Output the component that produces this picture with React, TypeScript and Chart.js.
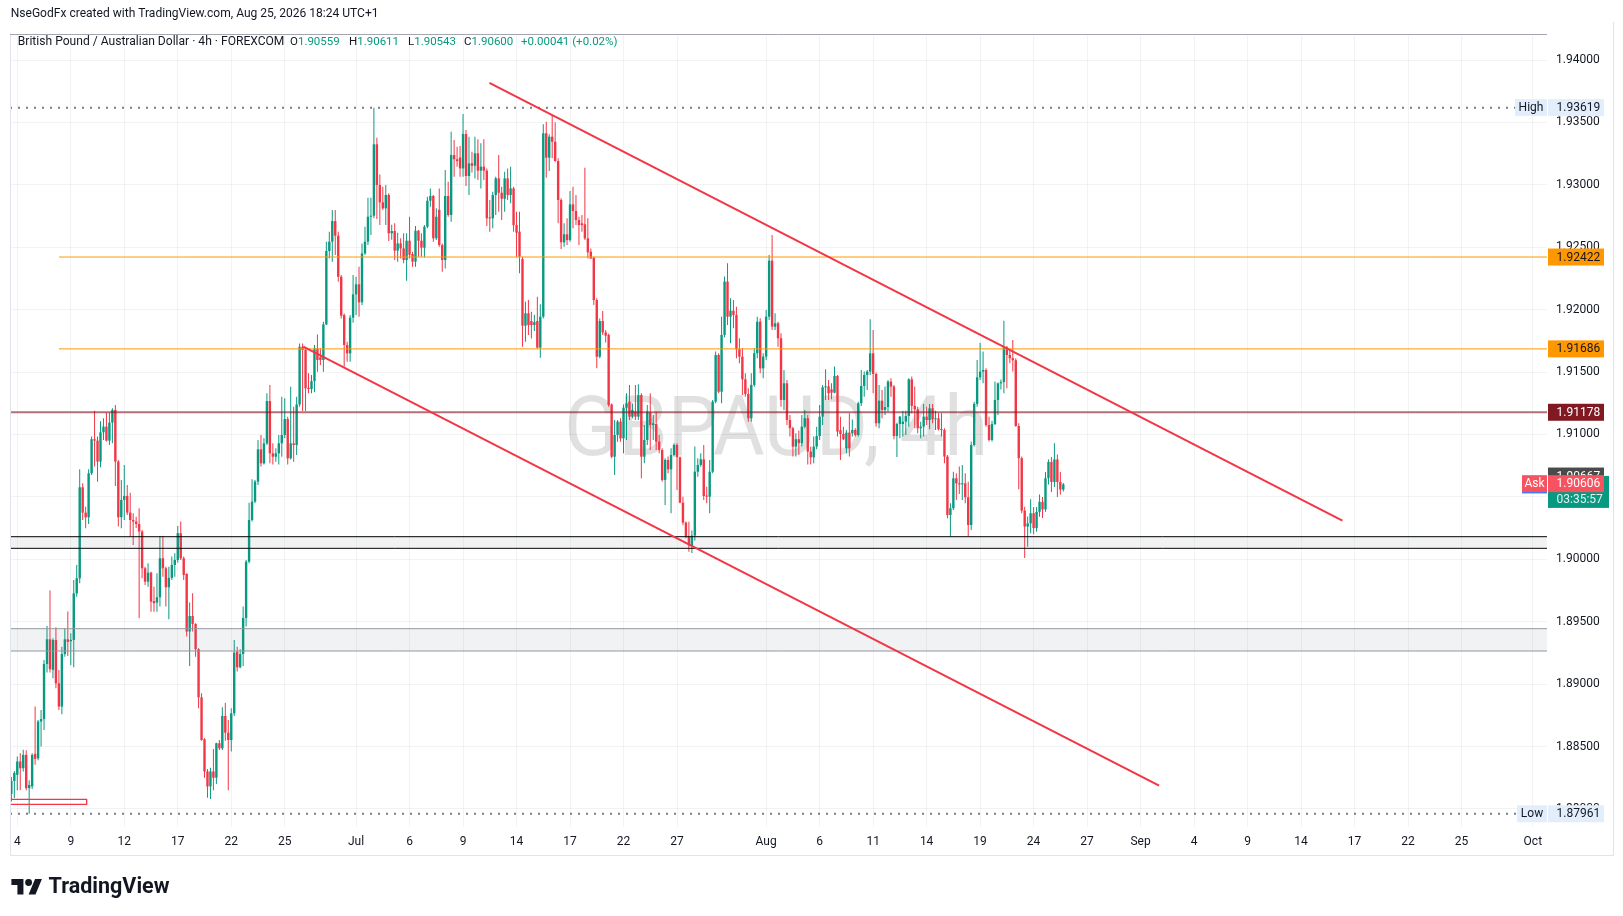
import React, { useEffect, useRef } from "react";
import { Chart, registerables } from "chart.js";

Chart.register(...registerables);

// ---------------- DATA ----------------
const HEADER_TEXT = "NseGodFx created with TradingView.com, Aug 25, 2026 18:24 UTC+1";
const SYMBOL_TEXT = "British Pound / Australian Dollar · 4h · FOREXCOM";
const OHLC_KEYS = ["O", "H", "L", "C"];
const OHLC_VALUES = ["1.90559", "1.90611", "1.90543", "1.90600"];
const CHANGE_TEXT = "+0.00041 (+0.02%)";
const WATERMARK = "GBPAUD, 4h";
const BRAND = "TradingView";

const BARS_PER_DAY = 6; // 4h candles per trading day
const FIRST_BAR = -2; // index of first candle relative to Jun 4 open

// [open, high, low, close]
const CANDLES: number[][] = [
  [1.88120, 1.88256, 1.88060, 1.88224], [1.88224, 1.88304, 1.88088, 1.88288],
  [1.88273, 1.88420, 1.88150, 1.88380], [1.88380, 1.88446, 1.88152, 1.88326], [1.88326, 1.88473, 1.88300, 1.88433],
  [1.88433, 1.88470, 1.88150, 1.88166], [1.88166, 1.88230, 1.87961, 1.88192], [1.88180, 1.88446, 1.88160, 1.88433],
  [1.88441, 1.88820, 1.88353, 1.88401], [1.88405, 1.88713, 1.88390, 1.88700], [1.88700, 1.88793, 1.88500, 1.88720],
  [1.88720, 1.89193, 1.88632, 1.89161], [1.89161, 1.89466, 1.89092, 1.89359], [1.89359, 1.89749, 1.89092, 1.89119],
  [1.89114, 1.89367, 1.89047, 1.89354], [1.89354, 1.89455, 1.88966, 1.89006], [1.89006, 1.89113, 1.88793, 1.88820],
  [1.88820, 1.89300, 1.88758, 1.89241], [1.89241, 1.89447, 1.89220, 1.89359], [1.89359, 1.89581, 1.89226, 1.89338],
  [1.89343, 1.89407, 1.89153, 1.89354], [1.89354, 1.89834, 1.89135, 1.89727], [1.89727, 1.89955, 1.89700, 1.89848],
  [1.89848, 1.90721, 1.89808, 1.90577], [1.90577, 1.90609, 1.90315, 1.90374], [1.90374, 1.90422, 1.90248, 1.90337],
  [1.90337, 1.90721, 1.90283, 1.90689], [1.90689, 1.90983, 1.90676, 1.90962], [1.90962, 1.91191, 1.90743, 1.90951],
  [1.90951, 1.90983, 1.90622, 1.90783], [1.90783, 1.91106, 1.90737, 1.91018], [1.91018, 1.91130, 1.90956, 1.91063],
  [1.91063, 1.91175, 1.90943, 1.90951], [1.90951, 1.91175, 1.90916, 1.91095], [1.91095, 1.91210, 1.90930, 1.91197],
  [1.91197, 1.91237, 1.90588, 1.90783], [1.90783, 1.90796, 1.90262, 1.90337], [1.90337, 1.90636, 1.90248, 1.90476],
  [1.90476, 1.90756, 1.90315, 1.90508], [1.90508, 1.90596, 1.90355, 1.90374], [1.90374, 1.90534, 1.90182, 1.90315],
  [1.90315, 1.90369, 1.90115, 1.90302], [1.90302, 1.90340, 1.90250, 1.90283], [1.90283, 1.90409, 1.89527, 1.90222],
  [1.90222, 1.90235, 1.89848, 1.89928], [1.89928, 1.89941, 1.89794, 1.89821], [1.89821, 1.89968, 1.89781, 1.89893],
  [1.89893, 1.89901, 1.89580, 1.89660], [1.89666, 1.89781, 1.89580, 1.89648], [1.89653, 1.89888, 1.89580, 1.89696],
  [1.89696, 1.90187, 1.89621, 1.90008], [1.90008, 1.90187, 1.89861, 1.89928], [1.89928, 1.89941, 1.89621, 1.89776],
  [1.89776, 1.89941, 1.89519, 1.89851], [1.89851, 1.90022, 1.89834, 1.89955], [1.89955, 1.90048, 1.89861, 1.89995],
  [1.89995, 1.90267, 1.89973, 1.90209], [1.90209, 1.90302, 1.89995, 1.90008], [1.90008, 1.90022, 1.89834, 1.89875],
  [1.89883, 1.89888, 1.89381, 1.89421], [1.89421, 1.89653, 1.89145, 1.89546], [1.89546, 1.89727, 1.89421, 1.89482],
  [1.89482, 1.89487, 1.89220, 1.89280], [1.89280, 1.89287, 1.88806, 1.88894], [1.88894, 1.88926, 1.88547, 1.88552],
  [1.88558, 1.88566, 1.88250, 1.88300], [1.88300, 1.88320, 1.88090, 1.88180], [1.88180, 1.88330, 1.88080, 1.88300],
  [1.88300, 1.88480, 1.88150, 1.88250], [1.88250, 1.88531, 1.88200, 1.88526], [1.88526, 1.88552, 1.88472, 1.88486],
  [1.88486, 1.88814, 1.88472, 1.88745], [1.88745, 1.88851, 1.88547, 1.88611], [1.88611, 1.88713, 1.88150, 1.88552],
  [1.88552, 1.88806, 1.88459, 1.88766], [1.88766, 1.89354, 1.88745, 1.89252], [1.89260, 1.89300, 1.89100, 1.89135],
  [1.89135, 1.89279, 1.89127, 1.89241], [1.89241, 1.89621, 1.89145, 1.89530], [1.89530, 1.89995, 1.89461, 1.89981],
  [1.89981, 1.90454, 1.89968, 1.90315], [1.90315, 1.90641, 1.90302, 1.90462], [1.90462, 1.90636, 1.90449, 1.90622],
  [1.90622, 1.90956, 1.90596, 1.90881], [1.90881, 1.90996, 1.90743, 1.90769], [1.90769, 1.90969, 1.90760, 1.90929],
  [1.90929, 1.91330, 1.90916, 1.91268], [1.91268, 1.91396, 1.90769, 1.90849], [1.90849, 1.90929, 1.90760, 1.90822],
  [1.90822, 1.90889, 1.90782, 1.90849], [1.90849, 1.90996, 1.90760, 1.90929], [1.90929, 1.91303, 1.90822, 1.90996],
  [1.90996, 1.91290, 1.90969, 1.91124], [1.91124, 1.91142, 1.90760, 1.90809], [1.90809, 1.91383, 1.90800, 1.90929],
  [1.90929, 1.91223, 1.90782, 1.90916], [1.90916, 1.91303, 1.90836, 1.91241], [1.91241, 1.91730, 1.91223, 1.91703],
  [1.91703, 1.91730, 1.91188, 1.91677], [1.91677, 1.91690, 1.91188, 1.91370], [1.91375, 1.91490, 1.91330, 1.91364],
  [1.91364, 1.91476, 1.91330, 1.91428], [1.91428, 1.91717, 1.91338, 1.91690], [1.91690, 1.91802, 1.91503, 1.91597],
  [1.91620, 1.91690, 1.91556, 1.91597], [1.91597, 1.91904, 1.91503, 1.91882], [1.91882, 1.92545, 1.91877, 1.92470],
  [1.92470, 1.92625, 1.92411, 1.92545], [1.92545, 1.92798, 1.92385, 1.92710], [1.92710, 1.92798, 1.92438, 1.92593],
  [1.92593, 1.92625, 1.92224, 1.92264], [1.92264, 1.92278, 1.91930, 1.91952], [1.91957, 1.91970, 1.91543, 1.91717],
  [1.91717, 1.91743, 1.91583, 1.91650], [1.91650, 1.91957, 1.91583, 1.91936], [1.91936, 1.92278, 1.91896, 1.92123],
  [1.92123, 1.92264, 1.91957, 1.92203], [1.92203, 1.92344, 1.91944, 1.92059], [1.92059, 1.92531, 1.92037, 1.92451],
  [1.92451, 1.92665, 1.92438, 1.92545], [1.92545, 1.92897, 1.92518, 1.92745], [1.92745, 1.92897, 1.92598, 1.92753],
  [1.92753, 1.93619, 1.92732, 1.93325], [1.93325, 1.93378, 1.92726, 1.92999], [1.92999, 1.93084, 1.92678, 1.92860],
  [1.92860, 1.92985, 1.92799, 1.92812], [1.92812, 1.92999, 1.92678, 1.92919], [1.92919, 1.92932, 1.92550, 1.92612],
  [1.92612, 1.92680, 1.92560, 1.92630], [1.92630, 1.92692, 1.92398, 1.92473], [1.92473, 1.92617, 1.92385, 1.92531],
  [1.92531, 1.92572, 1.92411, 1.92491], [1.92491, 1.92612, 1.92372, 1.92398], [1.92398, 1.92612, 1.92232, 1.92553],
  [1.92553, 1.92745, 1.92411, 1.92440], [1.92446, 1.92465, 1.92345, 1.92385], [1.92385, 1.92670, 1.92345, 1.92633],
  [1.92633, 1.92638, 1.92425, 1.92553], [1.92553, 1.92612, 1.92425, 1.92497], [1.92497, 1.92678, 1.92419, 1.92665],
  [1.92665, 1.92905, 1.92652, 1.92873], [1.92873, 1.92972, 1.92825, 1.92911], [1.92911, 1.92919, 1.92545, 1.92572],
  [1.92572, 1.92812, 1.92558, 1.92745], [1.92800, 1.92972, 1.92505, 1.92518], [1.92518, 1.92531, 1.92304, 1.92398],
  [1.92398, 1.93119, 1.92331, 1.92911], [1.92911, 1.93026, 1.92745, 1.92759], [1.92759, 1.93426, 1.92705, 1.93239],
  [1.93239, 1.93360, 1.93066, 1.93205], [1.93205, 1.93306, 1.93146, 1.93190], [1.93219, 1.93311, 1.93066, 1.93132],
  [1.93132, 1.93568, 1.93066, 1.93408], [1.93408, 1.93440, 1.92991, 1.93071], [1.93071, 1.93386, 1.92919, 1.93173],
  [1.93173, 1.93266, 1.93100, 1.93153], [1.93153, 1.93386, 1.93052, 1.93253], [1.93253, 1.93365, 1.93039, 1.93114],
  [1.93114, 1.93333, 1.92972, 1.93146], [1.93146, 1.93365, 1.93039, 1.93114], [1.93114, 1.93132, 1.92670, 1.92732],
  [1.92740, 1.92879, 1.92625, 1.92732], [1.92732, 1.92945, 1.92652, 1.92919], [1.92919, 1.93066, 1.92759, 1.93052],
  [1.93052, 1.93239, 1.92785, 1.92937], [1.92937, 1.92986, 1.92718, 1.92889], [1.92889, 1.93106, 1.92785, 1.93052],
  [1.93052, 1.93132, 1.92879, 1.92919], [1.92919, 1.93146, 1.92852, 1.92972], [1.92972, 1.92986, 1.92625, 1.92678],
  [1.92678, 1.92785, 1.92425, 1.92617], [1.92625, 1.92785, 1.92291, 1.92425], [1.92406, 1.92425, 1.91704, 1.91872],
  [1.91872, 1.92064, 1.91744, 1.91971], [1.91971, 1.92077, 1.91797, 1.91877], [1.91909, 1.91984, 1.91770, 1.91877],
  [1.91877, 1.91960, 1.91830, 1.91900], [1.91909, 1.92104, 1.91690, 1.91696], [1.91696, 1.92043, 1.91615, 1.91944],
  [1.91944, 1.93485, 1.91930, 1.93413], [1.93413, 1.93506, 1.93058, 1.93218], [1.93218, 1.93405, 1.93111, 1.93386],
  [1.93386, 1.93560, 1.93213, 1.93346], [1.93346, 1.93501, 1.93186, 1.93191], [1.93191, 1.93213, 1.92692, 1.92879],
  [1.92879, 1.92892, 1.92486, 1.92540], [1.92540, 1.92692, 1.92505, 1.92604], [1.92604, 1.92732, 1.92518, 1.92558],
  [1.92558, 1.92951, 1.92545, 1.92844], [1.92844, 1.92986, 1.92652, 1.92791], [1.92791, 1.92919, 1.92678, 1.92719],
  [1.92719, 1.92745, 1.92518, 1.92678], [1.92692, 1.92759, 1.92625, 1.92678], [1.92684, 1.93138, 1.92559, 1.92572],
  [1.92572, 1.92732, 1.92411, 1.92460], [1.92465, 1.92491, 1.92406, 1.92411], [1.92417, 1.92425, 1.92037, 1.92077],
  [1.92077, 1.92091, 1.91530, 1.91623], [1.91623, 1.91930, 1.91610, 1.91909], [1.91909, 1.91989, 1.91797, 1.91818],
  [1.91818, 1.91837, 1.91738, 1.91792], [1.91797, 1.91810, 1.91223, 1.91236], [1.91241, 1.91249, 1.90809, 1.90822],
  [1.90822, 1.91116, 1.90675, 1.90996], [1.90996, 1.91116, 1.90942, 1.91103], [1.91103, 1.91130, 1.90942, 1.90969],
  [1.90969, 1.91241, 1.90849, 1.91215], [1.91215, 1.91330, 1.90956, 1.91250], [1.91263, 1.91396, 1.91116, 1.91143],
  [1.91143, 1.91249, 1.91130, 1.91196], [1.91183, 1.91396, 1.91116, 1.91143], [1.91143, 1.91402, 1.91116, 1.91316],
  [1.91316, 1.91330, 1.90649, 1.90822], [1.90822, 1.91076, 1.90769, 1.90956], [1.90956, 1.91236, 1.90916, 1.91183],
  [1.91175, 1.91330, 1.90876, 1.91076], [1.91076, 1.91156, 1.90956, 1.91090], [1.91084, 1.91183, 1.90876, 1.90943],
  [1.90943, 1.90996, 1.90849, 1.90876], [1.90876, 1.90889, 1.90622, 1.90636], [1.90636, 1.90810, 1.90435, 1.90796],
  [1.90796, 1.90823, 1.90689, 1.90721], [1.90721, 1.90889, 1.90369, 1.90836], [1.90836, 1.90930, 1.90823, 1.90916],
  [1.90916, 1.90930, 1.90556, 1.90817], [1.90817, 1.90823, 1.90449, 1.90454], [1.90454, 1.90502, 1.90275, 1.90294],
  [1.90294, 1.90302, 1.90168, 1.90182], [1.90182, 1.90300, 1.90060, 1.90110], [1.90110, 1.90230, 1.90050, 1.90190],
  [1.90190, 1.90903, 1.90150, 1.90702], [1.90702, 1.90810, 1.90662, 1.90756], [1.90756, 1.90849, 1.90742, 1.90801],
  [1.90801, 1.90916, 1.90475, 1.90507], [1.90507, 1.90582, 1.90449, 1.90502], [1.90502, 1.90796, 1.90369, 1.90702],
  [1.90702, 1.91277, 1.90689, 1.91263], [1.91263, 1.91664, 1.91250, 1.91637], [1.91637, 1.91651, 1.91330, 1.91343],
  [1.91343, 1.91944, 1.91250, 1.91798], [1.91798, 1.92265, 1.91780, 1.92225], [1.92225, 1.92372, 1.91878, 1.91944],
  [1.91944, 1.92091, 1.91731, 1.91992], [1.91992, 1.92078, 1.91851, 1.91958], [1.91958, 1.92024, 1.91611, 1.91683],
  [1.91683, 1.91771, 1.91571, 1.91624], [1.91624, 1.91691, 1.91317, 1.91442], [1.91442, 1.91490, 1.91303, 1.91325],
  [1.91325, 1.91370, 1.91103, 1.91130], [1.91130, 1.91490, 1.91103, 1.91397], [1.91397, 1.91691, 1.91383, 1.91651],
  [1.91651, 1.91944, 1.91611, 1.91904], [1.91904, 1.91931, 1.91490, 1.91530], [1.91530, 1.91651, 1.91450, 1.91624],
  [1.91624, 1.91998, 1.91597, 1.91944], [1.91944, 1.92439, 1.91918, 1.92393], [1.92393, 1.92599, 1.91838, 1.91864],
  [1.91864, 1.91971, 1.91838, 1.91891], [1.91891, 1.91904, 1.91704, 1.91771], [1.91771, 1.91811, 1.91223, 1.91277],
  [1.91277, 1.91517, 1.91197, 1.91410], [1.91410, 1.91437, 1.91076, 1.91116], [1.91116, 1.91156, 1.90983, 1.91050],
  [1.91050, 1.91063, 1.90823, 1.90903], [1.90903, 1.91010, 1.90823, 1.90962], [1.90962, 1.91031, 1.90836, 1.90930],
  [1.90930, 1.91156, 1.90903, 1.91063], [1.91063, 1.91197, 1.91050, 1.91130], [1.91130, 1.91156, 1.90760, 1.90863],
  [1.90863, 1.90903, 1.90760, 1.90817], [1.90817, 1.90983, 1.90770, 1.90903], [1.90903, 1.91063, 1.90881, 1.90988],
  [1.90988, 1.91237, 1.90956, 1.91143], [1.91143, 1.91397, 1.91076, 1.91378], [1.91378, 1.91522, 1.91277, 1.91386],
  [1.91386, 1.91437, 1.91277, 1.91330], [1.91362, 1.91410, 1.91282, 1.91335], [1.91335, 1.91544, 1.91330, 1.91469],
  [1.91469, 1.91477, 1.90983, 1.91023], [1.91034, 1.91143, 1.90796, 1.91004], [1.91004, 1.91063, 1.90956, 1.90962],
  [1.90889, 1.91036, 1.90849, 1.91015], [1.91015, 1.91170, 1.90823, 1.90889], [1.91010, 1.91120, 1.90983, 1.91036],
  [1.91036, 1.91050, 1.90983, 1.90996], [1.90996, 1.91263, 1.90983, 1.91250], [1.91250, 1.91517, 1.91229, 1.91389],
  [1.91389, 1.91504, 1.91303, 1.91477], [1.91477, 1.91517, 1.91357, 1.91504], [1.91504, 1.91923, 1.91477, 1.91650],
  [1.91650, 1.91838, 1.91330, 1.91485], [1.91485, 1.91496, 1.91063, 1.91090], [1.91090, 1.91397, 1.91050, 1.91271],
  [1.91271, 1.91357, 1.91130, 1.91197], [1.91197, 1.91384, 1.91156, 1.91220], [1.91220, 1.91437, 1.91183, 1.91424],
  [1.91424, 1.91450, 1.91303, 1.91384], [1.91384, 1.91397, 1.90962, 1.90988], [1.90988, 1.91095, 1.90820, 1.91084],
  [1.91084, 1.91148, 1.90969, 1.91143], [1.91084, 1.91190, 1.90983, 1.91103], [1.91103, 1.91190, 1.90996, 1.91148],
  [1.91148, 1.91450, 1.91063, 1.91442], [1.91442, 1.91464, 1.91170, 1.91229], [1.91229, 1.91384, 1.91050, 1.91202],
  [1.91202, 1.91223, 1.91010, 1.91050], [1.91050, 1.91103, 1.90969, 1.91063], [1.91063, 1.91245, 1.90983, 1.91143],
  [1.91143, 1.91223, 1.91076, 1.91116], [1.91116, 1.91245, 1.91042, 1.91210], [1.91210, 1.91245, 1.91090, 1.91122],
  [1.91122, 1.91190, 1.91036, 1.91130], [1.91130, 1.91170, 1.91031, 1.91042], [1.91042, 1.91170, 1.90983, 1.91036],
  [1.91036, 1.91050, 1.90770, 1.90823], [1.90823, 1.90836, 1.90329, 1.90355], [1.90355, 1.90449, 1.90182, 1.90409],
  [1.90409, 1.90702, 1.90395, 1.90649], [1.90649, 1.90689, 1.90475, 1.90609], [1.90609, 1.90743, 1.90524, 1.90600],
  [1.90600, 1.90756, 1.90475, 1.90609], [1.90609, 1.90689, 1.90449, 1.90497], [1.90497, 1.90622, 1.90182, 1.90275],
  [1.90275, 1.90943, 1.90235, 1.90916], [1.90916, 1.91263, 1.90903, 1.91245], [1.91245, 1.91597, 1.91223, 1.91458],
  [1.91458, 1.91736, 1.91437, 1.91504], [1.91504, 1.91664, 1.91410, 1.91517], [1.91517, 1.91530, 1.91063, 1.91076],
  [1.91076, 1.91143, 1.90943, 1.90956], [1.90956, 1.91111, 1.90943, 1.91084], [1.91084, 1.91424, 1.91076, 1.91277],
  [1.91277, 1.91416, 1.91157, 1.91410], [1.91410, 1.91440, 1.91360, 1.91420], [1.91420, 1.91912, 1.91330, 1.91699],
  [1.91699, 1.91709, 1.91370, 1.91637], [1.91637, 1.91677, 1.91571, 1.91611], [1.91611, 1.91758, 1.91504, 1.91595],
  [1.91595, 1.91610, 1.91063, 1.91068], [1.91068, 1.91090, 1.90561, 1.90810], [1.90810, 1.90823, 1.90369, 1.90390],
  [1.90390, 1.90422, 1.90010, 1.90262], [1.90262, 1.90342, 1.90100, 1.90288], [1.90288, 1.90481, 1.90208, 1.90369],
  [1.90369, 1.90420, 1.90200, 1.90250], [1.90250, 1.90420, 1.90220, 1.90380], [1.90380, 1.90520, 1.90340, 1.90460],
  [1.90460, 1.90500, 1.90330, 1.90400], [1.90400, 1.90700, 1.90380, 1.90650], [1.90650, 1.90800, 1.90600, 1.90780],
  [1.90780, 1.90820, 1.90540, 1.90620], [1.90620, 1.90930, 1.90580, 1.90800], [1.90800, 1.90840, 1.90500, 1.90620],
  [1.90620, 1.90700, 1.90520, 1.90559], [1.90559, 1.90611, 1.90543, 1.90600],
];

// time axis: trading-day offsets from Jun 4 and their labels
const X_TICK_DAYS = [0, 3, 6, 9, 12, 15, 19, 22, 25, 28, 31, 34, 37, 42, 45, 48, 51, 54, 57, 60, 63, 66, 69, 72, 75, 78, 81, 85];
const X_TICK_LABELS = ["4", "9", "12", "17", "22", "25", "Jul", "6", "9", "14", "17", "22", "27", "Aug", "6", "11", "14", "19", "24", "27", "Sep", "4", "9", "14", "17", "22", "25", "Oct"];
const Y_TICKS = [1.88, 1.885, 1.89, 1.895, 1.9, 1.905, 1.91, 1.915, 1.92, 1.925, 1.93, 1.935, 1.94];

const X_MIN = -0.409;
const X_MAX = 85.794;
const Y_MIN = 1.87855;
const Y_MAX = 1.94209;

const HIGH_PRICE = 1.93619;
const LOW_PRICE = 1.87961;
const ORANGE_LEVELS = [1.92422, 1.91686];
const ORANGE_START_DAY = 2.34;
const MAROON_LEVEL = 1.91178;
const SUPPORT_ZONE = [1.90088, 1.90181];
const GRAY_ZONE = [1.89265, 1.89444];
const UPPER_TREND = [[26.48, 1.93818], [74.32, 1.9031]];
const LOWER_TREND = [[16.04, 1.91704], [64.04, 1.88187]];
const RED_BOX_X = [-0.41, 3.89];
const RED_BOX_Y = [1.88037, 1.88077];
const PREV_LEVEL = 1.90667;
const ASK_PRICE = 1.90606;
const LAST_PRICE = 1.906;
const COUNTDOWN = "03:35:57";

// ---------------- STYLE ----------------
const W = 1623;
const H = 916;
const FONT = "Roboto, 'Liberation Sans', Arial, sans-serif";
const UP = "#089981";
const DOWN = "#f23645";
const TEXT = "#131722";
const GRID = "rgba(42,46,57,0.06)";

const fmt = (p: number) => p.toFixed(5);

function hLine(y: number, color: string, width: number, x0 = X_MIN, extra: any = {}) {
  return {
    type: "line",
    data: [{ x: x0, y }, { x: X_MAX, y }],
    borderColor: color,
    borderWidth: width,
    pointRadius: 0,
    fill: false,
    tension: 0,
    ...extra,
  };
}

function buildDatasets() {
  const xs = CANDLES.map((_, k) => (FIRST_BAR + k) / BARS_PER_DAY);
  const colors = CANDLES.map((c) => (c[3] >= c[0] ? UP : DOWN));
  const bodies = {
    type: "bar",
    data: CANDLES.map((c, k) => ({ x: xs[k], y: [Math.min(c[0], c[3]), Math.max(c[0], c[3])] })),
    backgroundColor: colors,
    barThickness: 2.4,
    minBarLength: 1,
    grouped: false,
    borderWidth: 0,
    inflateAmount: 0,
  };
  const wicks = {
    type: "bar",
    data: CANDLES.map((c, k) => ({
      x: xs[k],
      y: [Math.min(c[2], c[0], c[3]), Math.max(c[1], c[0], c[3])],
    })),
    backgroundColor: colors,
    barThickness: 1,
    minBarLength: 1,
    grouped: false,
    borderWidth: 0,
    inflateAmount: 0,
  };
  const trend = (pts: number[][]) => ({
    type: "line",
    data: pts.map((p) => ({ x: p[0], y: p[1] })),
    borderColor: DOWN,
    borderWidth: 2,
    pointRadius: 0,
    fill: false,
    tension: 0,
  });
  const redBox = {
    type: "line",
    data: [
      { x: RED_BOX_X[0], y: RED_BOX_Y[0] },
      { x: RED_BOX_X[1], y: RED_BOX_Y[0] },
      { x: RED_BOX_X[1], y: RED_BOX_Y[1] },
      { x: RED_BOX_X[0], y: RED_BOX_Y[1] },
      { x: RED_BOX_X[0], y: RED_BOX_Y[0] },
    ],
    borderColor: DOWN,
    borderWidth: 1.3,
    pointRadius: 0,
    fill: false,
    tension: 0,
  };
  return [
    trend(UPPER_TREND),
    trend(LOWER_TREND),
    hLine(ORANGE_LEVELS[0], "#ff9800", 1, ORANGE_START_DAY),
    hLine(ORANGE_LEVELS[1], "#ff9800", 1, ORANGE_START_DAY),
    hLine(MAROON_LEVEL, "rgba(128,25,34,0.62)", 2),
    hLine(SUPPORT_ZONE[1], "#000000", 1, X_MIN, {
      fill: { value: SUPPORT_ZONE[0] },
      backgroundColor: "rgba(120,123,134,0.1)",
    }),
    hLine(SUPPORT_ZONE[0], "#000000", 1),
    hLine(GRAY_ZONE[1], "#9598a1", 1, X_MIN, {
      fill: { value: GRAY_ZONE[0] },
      backgroundColor: "rgba(120,123,134,0.1)",
    }),
    hLine(GRAY_ZONE[0], "#9598a1", 1),
    redBox,
    hLine(HIGH_PRICE, "#787b86", 2, X_MIN, { borderDash: [2, 6] }),
    hLine(LOW_PRICE, "#787b86", 2, X_MIN, { borderDash: [2, 6] }),
    bodies,
    wicks,
  ];
}

function fitText(ctx: CanvasRenderingContext2D, text: string, x: number, y: number, target: number, base: number, weight: string, color: string) {
  ctx.font = `${weight} ${base}px ${FONT}`;
  const w = ctx.measureText(text).width;
  let size = base * (target / w);
  size = Math.max(base * 0.82, Math.min(base * 1.2, size));
  ctx.font = `${weight} ${size}px ${FONT}`;
  ctx.fillStyle = color;
  ctx.fillText(text, x, y);
}

const watermarkPlugin = {
  id: "watermark",
  beforeDatasetsDraw(chart: any) {
    const { ctx } = chart;
    ctx.save();
    ctx.font = `400 84px ${FONT}`;
    const w = ctx.measureText(WATERMARK).width;
    const sx = 424 / w;
    ctx.translate(776, 455);
    ctx.scale(sx, 1);
    ctx.textAlign = "center";
    ctx.textBaseline = "alphabetic";
    ctx.fillStyle = "rgba(0,0,0,0.12)";
    ctx.fillText(WATERMARK, 0, 0);
    ctx.restore();
  },
};

const overlayPlugin = {
  id: "overlay",
  afterDraw(chart: any) {
    const { ctx, chartArea: ca } = chart;
    const y = chart.scales.y;
    const R = ca.right;
    ctx.save();

    // frame
    ctx.strokeStyle = "#e0e3eb";
    ctx.lineWidth = 1;
    ctx.beginPath();
    ctx.moveTo(10.5, ca.top);
    ctx.lineTo(10.5, 855.5);
    ctx.lineTo(1613.5, 855.5);
    ctx.lineTo(1613.5, 22);
    ctx.stroke();
    ctx.strokeStyle = "#a3a6af";
    ctx.beginPath();
    ctx.moveTo(10, ca.top + 0.5);
    ctx.lineTo(R, ca.top + 0.5);
    ctx.stroke();

    // header & legend
    ctx.textBaseline = "middle";
    ctx.textAlign = "left";
    fitText(ctx, HEADER_TEXT, 10.7, 14, 368, 12, "400", TEXT);
    fitText(ctx, SYMBOL_TEXT, 17.8, 42, 267, 12, "400", TEXT);
    const ohlcX = [290, 349, 408, 464];
    ctx.font = `400 11.5px ${FONT}`;
    OHLC_KEYS.forEach((k, i) => {
      ctx.fillStyle = TEXT;
      ctx.fillText(k, ohlcX[i], 42);
      const kw = ctx.measureText(k).width;
      ctx.fillStyle = UP;
      ctx.fillText(OHLC_VALUES[i], ohlcX[i] + kw, 42);
    });
    ctx.fillStyle = UP;
    ctx.fillText(CHANGE_TEXT, 521, 42);

    // right-side labels
    const boxH = 17;
    const tag = (x0: number, x1: number, yc: number, bg: string) => {
      ctx.fillStyle = bg;
      ctx.fillRect(x0, yc - boxH / 2, x1 - x0, boxH);
    };
    const txt = (s: string, x: number, yc: number, color: string, align: CanvasTextAlign = "left") => {
      ctx.font = `400 12px ${FONT}`;
      ctx.textAlign = align;
      ctx.fillStyle = color;
      ctx.fillText(s, x, yc + 0.5);
    };
    const px0 = R + 1;
    const px1 = R + 57;
    const tx = R + 9.5;

    // High / Low
    const yH = y.getPixelForValue(HIGH_PRICE);
    tag(R - 32, R, yH, "#e3eefc");
    tag(px0, px1, yH, "#e3eefc");
    txt("High", R - 16, yH, TEXT, "center");
    txt(fmt(HIGH_PRICE), tx, yH, TEXT);
    const yL = y.getPixelForValue(LOW_PRICE);
    tag(R - 30, R, yL, "#e3eefc");
    tag(px0, px1, yL, "#e3eefc");
    txt("Low", R - 15, yL, TEXT, "center");
    txt(fmt(LOW_PRICE), tx, yL, TEXT);

    // orange & maroon levels
    ORANGE_LEVELS.forEach((p) => {
      const yy = y.getPixelForValue(p);
      tag(px0, px1, yy, "#ff9800");
      txt(fmt(p), tx, yy, TEXT);
    });
    const yM = y.getPixelForValue(MAROON_LEVEL);
    tag(px0, px1, yM, "#801922");
    txt(fmt(MAROON_LEVEL), tx, yM, "#ffffff");

    // previous level, last price + countdown, ask
    const yP = y.getPixelForValue(PREV_LEVEL);
    tag(px0, px1, yP, "#4a4a4a");
    txt(fmt(PREV_LEVEL), tx, yP, "#ffffff");
    const yC = y.getPixelForValue(LAST_PRICE);
    ctx.fillStyle = UP;
    ctx.fillRect(px0, yC - boxH / 2, 61, boxH * 2 - 2);
    txt(fmt(LAST_PRICE), tx, yC, "#ffffff");
    txt(COUNTDOWN, tx, yC + 15.5, "rgba(255,255,255,0.88)");
    const yA = y.getPixelForValue(ASK_PRICE);
    tag(R - 25, R, yA, "#f7525f");
    tag(px0, px1, yA, "#f7525f");
    txt("Ask", R - 12.5, yA, "#ffffff", "center");
    txt(fmt(ASK_PRICE), tx, yA, "#ffffff");
    ctx.fillStyle = "#2962ff";
    ctx.fillRect(R - 25, yA + boxH / 2, 25, 1.2);

    // brand logo
    ctx.save();
    ctx.translate(11.4, 875.6);
    ctx.scale(0.86, 0.86);
    ctx.fillStyle = TEXT;
    ctx.beginPath();
    ctx.moveTo(14, 22); ctx.lineTo(7, 22); ctx.lineTo(7, 11); ctx.lineTo(0, 11);
    ctx.lineTo(0, 4); ctx.lineTo(14, 4); ctx.closePath();
    ctx.moveTo(28, 22); ctx.lineTo(20, 22); ctx.lineTo(27.5, 4); ctx.lineTo(35.5, 4); ctx.closePath();
    ctx.fill();
    ctx.beginPath();
    ctx.arc(20, 8, 4, 0, Math.PI * 2);
    ctx.fill();
    ctx.restore();
    ctx.textAlign = "left";
    ctx.textBaseline = "middle";
    fitText(ctx, BRAND, 48.6, 887.5, 121, 22, "700", TEXT);

    ctx.restore();
  },
};

export default function App() {
  const ref = useRef<HTMLCanvasElement | null>(null);
  useEffect(() => {
    const canvas = ref.current;
    if (!canvas) return;
    const chart = new Chart(canvas, {
      type: "bar",
      data: { datasets: buildDatasets() as any },
      options: {
        responsive: false,
        animation: false,
        devicePixelRatio: 1,
        events: [],
        layout: { padding: { left: 10, top: 34, right: 10, bottom: 60 } },
        plugins: { legend: { display: false }, tooltip: { enabled: false } },
        scales: {
          x: {
            type: "linear",
            min: X_MIN,
            max: X_MAX,
            offset: false,
            grid: { color: GRID, drawTicks: false, offset: false },
            border: { display: false },
            ticks: {
              autoSkip: false,
              maxRotation: 0,
              minRotation: 0,
              padding: 8,
              color: TEXT,
              font: { family: FONT, size: 12 },
              callback: (_v: any, i: number) => X_TICK_LABELS[i] ?? "",
            },
            afterBuildTicks: (s: any) => {
              s.ticks = X_TICK_DAYS.map((v) => ({ value: v }));
            },
            afterFit: (s: any) => {
              s.height = 29;
            },
          } as any,
          y: {
            type: "linear",
            position: "right",
            min: Y_MIN,
            max: Y_MAX,
            grid: { color: GRID, drawTicks: false },
            border: { display: false },
            ticks: {
              autoSkip: false,
              padding: 9,
              color: TEXT,
              font: { family: FONT, size: 12 },
              callback: (v: any) => Number(v).toFixed(5),
            },
            afterBuildTicks: (s: any) => {
              s.ticks = Y_TICKS.map((v) => ({ value: v }));
            },
            afterFit: (s: any) => {
              s.width = 66;
            },
          } as any,
        },
      } as any,
      plugins: [watermarkPlugin, overlayPlugin],
    });
    return () => chart.destroy();
  }, []);
  return (
    <div style={{ position: "absolute", left: 0, top: 0, width: W, height: H, background: "#ffffff" }}>
      <canvas ref={ref} width={W} height={H} style={{ width: W, height: H, display: "block" }} />
    </div>
  );
}
